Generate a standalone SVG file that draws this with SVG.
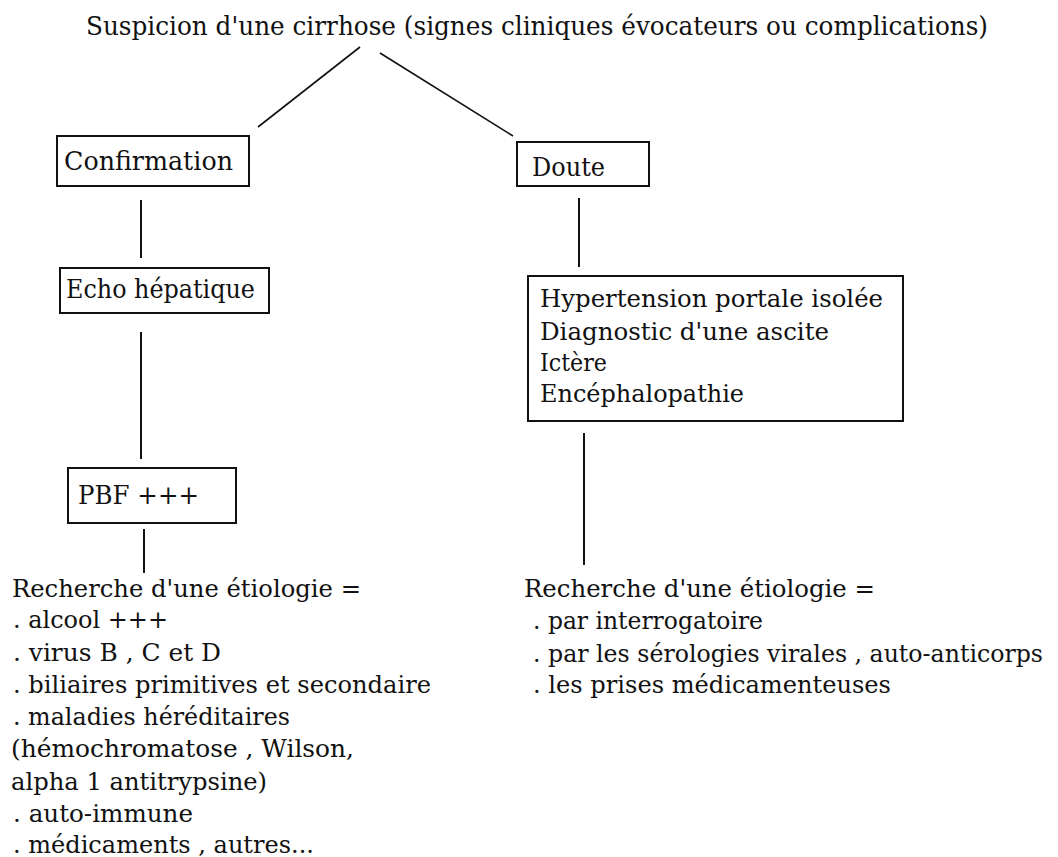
<svg xmlns="http://www.w3.org/2000/svg" width="1058" height="857" viewBox="0 0 1058 857">
<style>
  text { font-family: "DejaVu Serif", "Liberation Serif", serif; font-size: 25px; fill: #111; }
  text.big { font-size: 26px; }
  .box { fill: #fff; stroke: #111; stroke-width: 2; }
  .conn line { stroke: #111; stroke-width: 2; }
  .conn line.diag { stroke-width: 1.6; }
</style>
<rect x="0" y="0" width="1058" height="857" fill="#fff"/>
<g id="connectors" class="conn">
  <line class="diag" x1="360" y1="47" x2="258" y2="127"/>
  <line class="diag" x1="380" y1="53" x2="513" y2="136"/>
  <line x1="141" y1="200" x2="141" y2="258"/>
  <line x1="141" y1="332" x2="141" y2="459"/>
  <line x1="144" y1="529" x2="144" y2="573"/>
  <line x1="579" y1="198" x2="579" y2="267"/>
  <line x1="584" y1="433" x2="584" y2="565"/>
</g>
<g id="title">
  <text class="big" x="86" y="35" textLength="902" lengthAdjust="spacingAndGlyphs">Suspicion d'une cirrhose (signes cliniques évocateurs ou complications)</text>
</g>
<g id="confirmation">
  <rect class="box" x="57" y="136" width="192" height="50"/>
  <text class="big" x="64" y="170" textLength="169" lengthAdjust="spacingAndGlyphs">Confirmation</text>
</g>
<g id="doute">
  <rect class="box" x="517" y="142" width="132" height="44"/>
  <text class="big" x="532" y="176" textLength="73" lengthAdjust="spacingAndGlyphs">Doute</text>
</g>
<g id="echo">
  <rect class="box" x="60" y="268" width="209" height="45"/>
  <text class="big" x="66" y="298" textLength="189" lengthAdjust="spacingAndGlyphs">Echo hépatique</text>
</g>
<g id="pbf">
  <rect class="box" x="68" y="468" width="168" height="55"/>
  <text class="big" x="78" y="504" textLength="121" lengthAdjust="spacingAndGlyphs">PBF +++</text>
</g>
<g id="symptomes">
  <rect class="box" x="528" y="276" width="375" height="145"/>
  <text x="540" y="307" textLength="343" lengthAdjust="spacingAndGlyphs">Hypertension portale isolée</text>
  <text x="540" y="340" textLength="289" lengthAdjust="spacingAndGlyphs">Diagnostic d'une ascite</text>
  <text x="540" y="371" textLength="67" lengthAdjust="spacingAndGlyphs">Ictère</text>
  <text x="540" y="402" textLength="204" lengthAdjust="spacingAndGlyphs">Encéphalopathie</text>
</g>
<g id="etiologie-gauche">
  <text x="12" y="597" textLength="349" lengthAdjust="spacingAndGlyphs">Recherche d'une étiologie =</text>
  <text x="13" y="628" textLength="155" lengthAdjust="spacingAndGlyphs">. alcool +++</text>
  <text x="13" y="661" textLength="208" lengthAdjust="spacingAndGlyphs">. virus B , C et D</text>
  <text x="13" y="693" textLength="418" lengthAdjust="spacingAndGlyphs">. biliaires primitives et secondaire</text>
  <text x="13" y="725" textLength="277" lengthAdjust="spacingAndGlyphs">. maladies héréditaires</text>
  <text x="11" y="757" textLength="343" lengthAdjust="spacingAndGlyphs">(hémochromatose , Wilson,</text>
  <text x="11" y="790" textLength="256" lengthAdjust="spacingAndGlyphs">alpha 1 antitrypsine)</text>
  <text x="13" y="822" textLength="180" lengthAdjust="spacingAndGlyphs">. auto-immune</text>
  <text x="13" y="853" textLength="301" lengthAdjust="spacingAndGlyphs">. médicaments , autres...</text>
</g>
<g id="etiologie-droite">
  <text x="524" y="597" textLength="351" lengthAdjust="spacingAndGlyphs">Recherche d'une étiologie =</text>
  <text x="533" y="629" textLength="230" lengthAdjust="spacingAndGlyphs">. par interrogatoire</text>
  <text x="533" y="662" textLength="510" lengthAdjust="spacingAndGlyphs">. par les sérologies virales , auto-anticorps</text>
  <text x="533" y="693" textLength="358" lengthAdjust="spacingAndGlyphs">. les prises médicamenteuses</text>
</g>
</svg>
